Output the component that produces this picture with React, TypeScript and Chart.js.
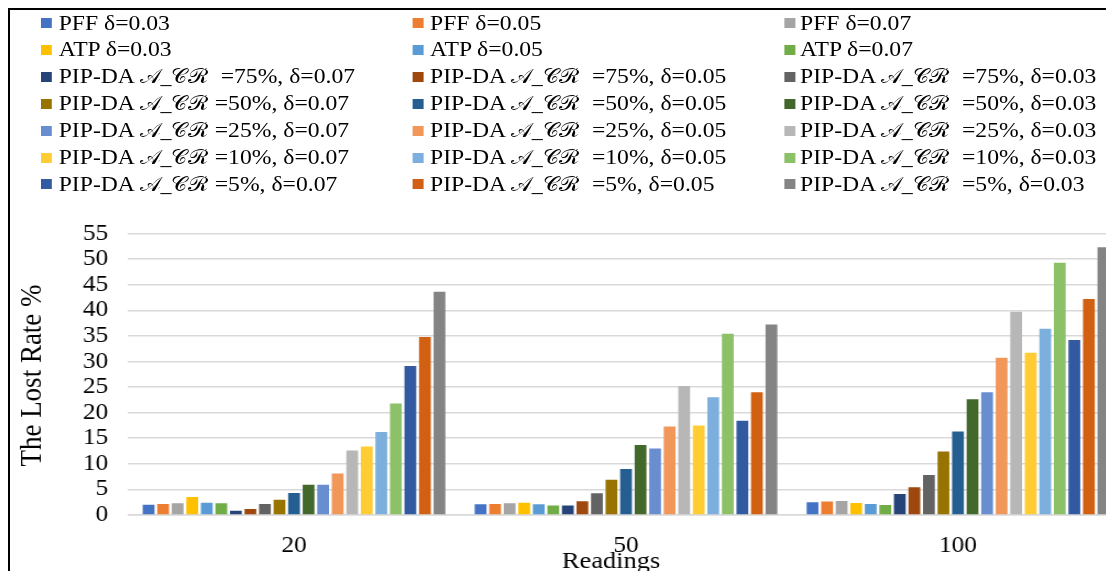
import React, { useEffect, useRef } from 'react';
import { Chart, registerables } from 'chart.js';

Chart.register(...registerables);

// ---------- data ----------
const categories = ['20', '50', '100'];

const seriesLabels = [
  'PFF δ=0.03',
  'PFF δ=0.05',
  'PFF δ=0.07',
  'ATP δ=0.03',
  'ATP δ=0.05',
  'ATP δ=0.07',
  'PIP-DA 𝒜_𝒞ℛ  =75%, δ=0.07',
  'PIP-DA 𝒜_𝒞ℛ  =75%, δ=0.05',
  'PIP-DA 𝒜_𝒞ℛ  =75%, δ=0.03',
  'PIP-DA 𝒜_𝒞ℛ =50%, δ=0.07',
  'PIP-DA 𝒜_𝒞ℛ  =50%, δ=0.05',
  'PIP-DA 𝒜_𝒞ℛ  =50%, δ=0.03',
  'PIP-DA 𝒜_𝒞ℛ =25%, δ=0.07',
  'PIP-DA 𝒜_𝒞ℛ  =25%, δ=0.05',
  'PIP-DA 𝒜_𝒞ℛ  =25%, δ=0.03',
  'PIP-DA 𝒜_𝒞ℛ =10%, δ=0.07',
  'PIP-DA 𝒜_𝒞ℛ  =10%, δ=0.05',
  'PIP-DA 𝒜_𝒞ℛ  =10%, δ=0.03',
  'PIP-DA 𝒜_𝒞ℛ =5%, δ=0.07',
  'PIP-DA 𝒜_𝒞ℛ  =5%, δ=0.05',
  'PIP-DA 𝒜_𝒞ℛ  =5%, δ=0.03',
];

const pff003 = [2.0, 2.1, 2.5];
const pff005 = [2.15, 2.15, 2.65];
const pff007 = [2.3, 2.3, 2.75];
const atp003 = [3.5, 2.4, 2.35];
const atp005 = [2.4, 2.1, 2.15];
const atp007 = [2.3, 1.85, 1.95];
const cr75d007 = [0.85, 1.85, 4.1];
const cr75d005 = [1.15, 2.7, 5.4];
const cr75d003 = [2.15, 4.25, 7.8];
const cr50d007 = [3.0, 6.9, 12.4];
const cr50d005 = [4.3, 9.0, 16.3];
const cr50d003 = [5.9, 13.7, 22.6];
const cr25d007 = [5.9, 13.0, 24.0];
const cr25d005 = [8.1, 17.3, 30.7];
const cr25d003 = [12.6, 25.2, 39.7];
const cr10d007 = [13.4, 17.5, 31.7];
const cr10d005 = [16.2, 23.0, 36.4];
const cr10d003 = [21.8, 35.4, 49.3];
const cr5d007 = [29.1, 18.4, 34.2];
const cr5d005 = [34.8, 24.0, 42.2];
const cr5d003 = [43.6, 37.2, 52.3];

const seriesValues = [
  pff003, pff005, pff007,
  atp003, atp005, atp007,
  cr75d007, cr75d005, cr75d003,
  cr50d007, cr50d005, cr50d003,
  cr25d007, cr25d005, cr25d003,
  cr10d007, cr10d005, cr10d003,
  cr5d007, cr5d005, cr5d003,
];

const seriesColors = [
  '#4472C4', '#ED7D31', '#A5A5A5',
  '#FFC000', '#5B9BD5', '#70AD47',
  '#264478', '#9E480E', '#636363',
  '#997300', '#255E91', '#43682B',
  '#698ED0', '#F1975A', '#B7B7B7',
  '#FFCD33', '#7CAFDD', '#8CC168',
  '#335AA1', '#D26012', '#848484',
];

const yTickStep = 5;
const yMax = 55;
const xTitle = 'Readings';
const yTitle = 'The Lost Rate %';
const SCRIPT = '𝒜_𝒞ℛ';

// ---------- layout ----------
const S = 1.1; // horizontal stretch of the whole figure
const FONT = '"Liberation Serif", "Times New Roman", serif';
const CW = 1030;
const CH = 569;
const AREA_LEFT = 107.3;
const AREA_RIGHT = 1012.7;
const AREA_TOP = 223.5;
const AREA_BOTTOM = 505;

const legendSwatchX = [28.2, 366, 703.9];
const legendTextX = [44.3, 381.8, 718.2];
const legendRow0 = 13;
const legendRowStep = 26.9;

const titlePlugin = {
  id: 'axisTitles',
  afterDraw(chart: any) {
    const ctx = chart.ctx;
    ctx.save();
    ctx.fillStyle = '#000';
    ctx.textAlign = 'center';
    ctx.textBaseline = 'alphabetic';
    ctx.font = `24px ${FONT}`;
    ctx.fillText(xTitle, 546.4, 558);
    ctx.translate(20.9, 365.5);
    ctx.rotate(-Math.PI / 2);
    ctx.textBaseline = 'middle';
    ctx.font = `27px ${FONT}`;
    ctx.fillText(yTitle, 0, 0);
    ctx.restore();
  },
};

function renderLabel(label: string) {
  const idx = label.indexOf(SCRIPT);
  if (idx < 0) return label;
  return (
    <>
      {label.slice(0, idx)}
      <span style={{ fontSize: '0.93em', fontWeight: 300 }}>{SCRIPT}</span>
      {label.slice(idx + SCRIPT.length)}
    </>
  );
}

export default function App() {
  const ref = useRef<HTMLCanvasElement>(null);

  useEffect(() => {
    document.body.style.overflow = 'hidden';
    const canvas = ref.current!;
    const chart = new Chart(canvas, {
      type: 'bar',
      data: {
        labels: categories,
        datasets: seriesLabels.map((label, i) => ({
          label,
          data: seriesValues[i],
          backgroundColor: seriesColors[i],
          borderWidth: 0,
          categoryPercentage: 0.92,
          barPercentage: 0.81,
        })),
      },
      options: {
        responsive: false,
        animation: false,
        devicePixelRatio: 1,
        layout: {
          padding: { top: AREA_TOP, right: CW - AREA_RIGHT, bottom: 0, left: 0 },
        },
        plugins: {
          legend: { display: false },
          tooltip: { enabled: false },
        },
        scales: {
          x: {
            grid: { display: false, drawTicks: false },
            border: { display: true, color: '#d9d9d9', width: 1.5 },
            ticks: { color: '#000', font: { family: FONT, size: 23 }, padding: 17 },
            afterFit: (s: any) => {
              s.height = CH - AREA_BOTTOM;
            },
          },
          y: {
            min: 0,
            max: yMax,
            ticks: {
              stepSize: yTickStep,
              autoSkip: false,
              color: '#000',
              font: { family: FONT, size: 23 },
              padding: 18,
            },
            grid: { color: '#d9d9d9', lineWidth: 1.5, drawTicks: false },
            border: { display: false },
            afterFit: (s: any) => {
              s.width = AREA_LEFT;
            },
          },
        },
      },
      plugins: [titlePlugin],
    } as any);
    return () => chart.destroy();
  }, []);

  return (
    <div
      style={{
        position: 'relative',
        width: 1106,
        height: 571,
        boxSizing: 'border-box',
        borderTop: '2px solid #000',
        borderLeft: '2px solid #000',
        overflow: 'hidden',
        marginBottom: -8,
        background: '#fff',
      }}
    >
      <div
        style={{
          position: 'absolute',
          left: 0,
          top: 0,
          width: CW,
          height: CH,
          transform: `scaleX(${S})`,
          transformOrigin: '0 0',
        }}
      >
        <canvas
          ref={ref}
          width={CW}
          height={CH}
          style={{ display: 'block', width: CW + 'px', height: CH + 'px' }}
        />
        {seriesLabels.map((label, i) => {
          const col = i % 3;
          const row = Math.floor(i / 3);
          const cy = legendRow0 + row * legendRowStep;
          return (
            <div
              key={i}
              style={{
                position: 'absolute',
                left: legendSwatchX[col],
                top: cy - 13,
                height: 26,
                display: 'flex',
                alignItems: 'center',
                whiteSpace: 'pre',
                fontFamily: FONT,
                fontSize: 21.5,
                color: '#000',
              }}
            >
              <span
                style={{
                  display: 'inline-block',
                  width: 10,
                  height: 10,
                  background: seriesColors[i],
                  marginRight: legendTextX[col] - legendSwatchX[col] - 10,
                }}
              />
              <span>{renderLabel(label)}</span>
            </div>
          );
        })}
      </div>
    </div>
  );
}
